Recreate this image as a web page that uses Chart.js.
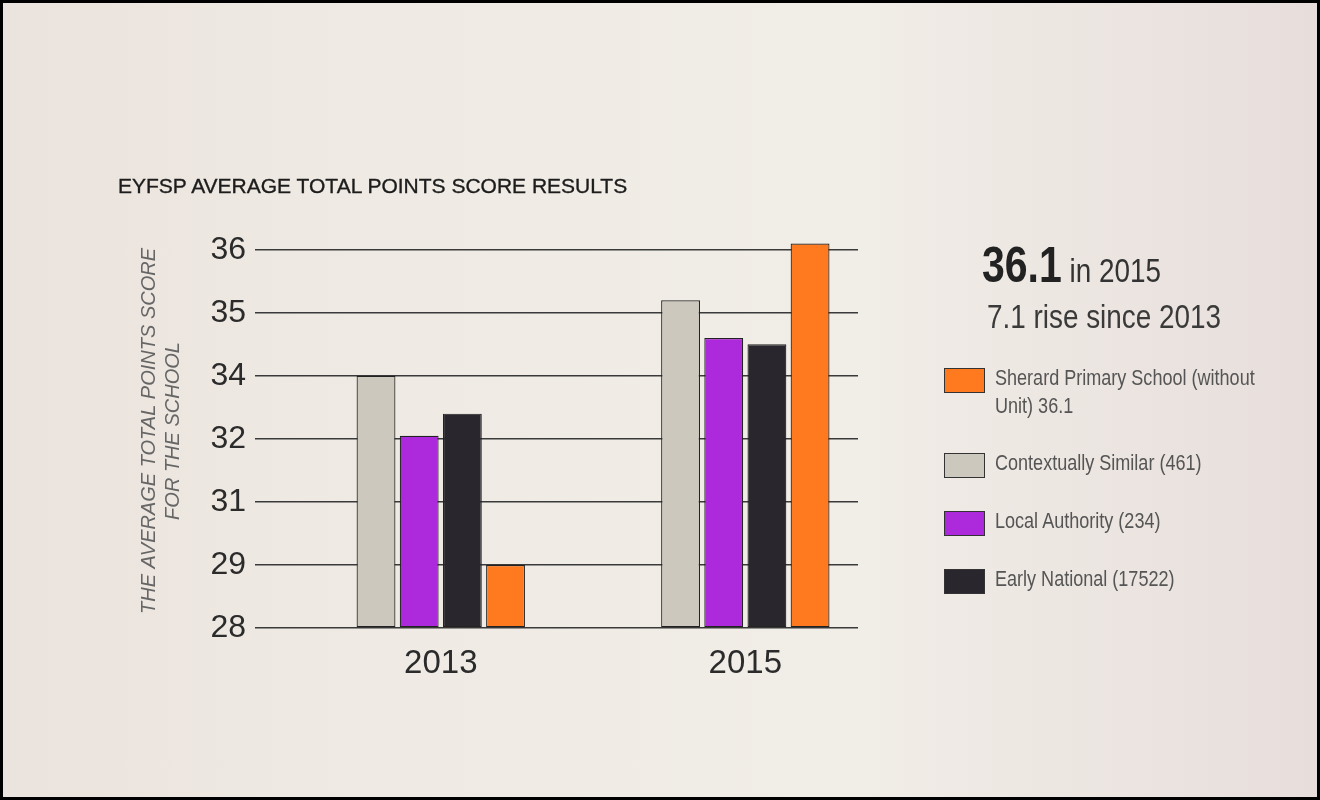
<!DOCTYPE html>
<html>
<head>
<meta charset="utf-8">
<script src="https://cdn.jsdelivr.net/npm/chart.js@4/dist/chart.umd.min.js"></script>
<style>
    html, body { margin: 0; padding: 0; }
    body { width: 1320px; height: 800px; overflow: hidden; }
    #page {
        position: relative; width: 1320px; height: 800px;
        background: linear-gradient(90deg, #ebe3dd 0%, #efebe4 30%, #f1ede7 65%, #e7dedb 100%);
        font-family: 'Liberation Sans', Arial, sans-serif; color: #333;
    }
    #frame { position: absolute; inset: 0; border: 3px solid #000; pointer-events: none; z-index: 5; }
    #chart { position: absolute; left: 0; top: 0; }
    #title {
        position: absolute; left: 118px; top: 175px; line-height: 1;
        font-size: 21px; color: #1c1c1c; -webkit-text-stroke: 0.35px #1c1c1c;
    }
    .narrow { transform: scaleX(0.82); transform-origin: 0 0; white-space: nowrap; }
    #stat { position: absolute; left: 982px; top: 240px; line-height: 1; color: #222; }
    #stat b { font-size: 50px; font-weight: bold; }
    #stat span { font-size: 34px; color: #333; }
    #rise { position: absolute; left: 987px; top: 299px; font-size: 34px; line-height: 1; color: #3a3a3a; }
    #legend { position: absolute; left: 944px; top: 364px; }
    .item { display: flex; align-items: flex-start; margin-bottom: 29px; }
    .box { width: 39px; height: 23px; margin-top: 4px; border: 1px solid #333; flex: none; }
    .txt { margin-left: 10px; width: 360px; font-size: 22px; line-height: 28px; color: #555;
           transform: scaleX(0.82); transform-origin: 0 0; }
</style>
</head>
<body>
<div id="page">
    <canvas id="chart" width="1320" height="800"></canvas>
    <div id="title">EYFSP AVERAGE TOTAL POINTS SCORE RESULTS</div>
    <div id="stat" class="narrow"><b>36.1</b><span> in 2015</span></div>
    <div id="rise" class="narrow">7.1 rise since 2013</div>
    <div id="legend"></div>
    <div id="frame"></div>
</div>
<script>
'use strict';

/* --------------------------------------------------------------------------
   DATA
   -------------------------------------------------------------------------- */
const years = [2013, 2015];
const yTickLabels = [28, 29, 31, 32, 34, 35, 36];   // evenly spaced on the original axis

const contextual = [34.0, 35.2];
const localAuth  = [32.1, 34.6];
const national   = [32.8, 34.5];
const sherard    = [29.0, 36.1];

const COLORS = {
    gray:   '#ccc8be',
    purple: '#ac29dc',
    black:  '#29272d',
    orange: '#ff7a1f',
};

// legend order on the right panel (dataset indexes)
const legendOrder = [3, 0, 1, 2];

/* --------------------------------------------------------------------------
   The source axis spaces its uneven labels evenly, so map a score onto
   the label index (piecewise linear between neighbouring labels).
   -------------------------------------------------------------------------- */
function toAxis(v) {
    const t = yTickLabels;
    for (let i = 0; i < t.length - 1; i++) {
        if (v <= t[i + 1]) return i + (v - t[i]) / (t[i + 1] - t[i]);
    }
    return t.length - 1 + (v - t[t.length - 1]);
}

const points = arr => arr.map((v, i) => ({ x: years[i], y: toAxis(v) }));

const barStyle = { borderColor: '#222', borderWidth: 1.2, borderSkipped: false,
                   barPercentage: 0.9, categoryPercentage: 0.567 };

const datasets = [
    { label: 'Contextually Similar (461)', data: points(contextual), backgroundColor: COLORS.gray, ...barStyle },
    { label: 'Local Authority (234)', data: points(localAuth), backgroundColor: COLORS.purple, ...barStyle },
    { label: 'Early National (17522)', data: points(national), backgroundColor: COLORS.black, ...barStyle },
    { label: 'Sherard Primary School (without Unit) 36.1', data: points(sherard), backgroundColor: COLORS.orange, ...barStyle },
];

const FONT = "'Liberation Sans', Arial, sans-serif";

const chart = new Chart(document.getElementById('chart').getContext('2d'), {
    type: 'bar',
    data: { datasets },
    options: {
        responsive: false,
        animation: false,
        layout: { padding: { left: 137, top: 234, right: 462, bottom: 112 } },
        plugins: { legend: { display: false }, tooltip: { enabled: false } },
        scales: {
            x: {
                type: 'linear',
                offset: false,
                min: 2011.78, max: 2015.74,
                afterBuildTicks: s => { s.ticks = years.map(v => ({ value: v })); },
                afterFit: s => { s.height = 60; },
                grid: { display: false, offset: false },
                border: { display: false },
                ticks: { color: '#2b2b2b', font: { family: FONT, size: 33 }, padding: 8,
                         callback: v => String(v) },
            },
            y: {
                min: 0, max: 6.25,
                afterBuildTicks: s => { s.ticks = yTickLabels.map((_, i) => ({ value: i })); },
                afterFit: s => { s.width = 118; },
                grid: { color: '#3a3a3a', lineWidth: 1.5, drawTicks: false },
                border: { display: false },
                ticks: { color: '#2b2b2b', font: { family: FONT, size: 32 }, padding: 9,
                         callback: (v, i) => yTickLabels[i] },
                title: {
                    display: true,
                    text: ['THE AVERAGE TOTAL POINTS SCORE', 'FOR THE SCHOOL'],
                    color: '#666',
                    font: { family: FONT, size: 20, style: 'italic' },
                    padding: { top: 0, bottom: 0 },
                },
            },
        },
    },
});

/* --------------------------------------------------------------------------
   HTML legend (wrapped label text)
   -------------------------------------------------------------------------- */
const legendEl = document.getElementById('legend');
legendOrder.forEach(idx => {
    const ds = chart.data.datasets[idx];
    const item = document.createElement('div');
    item.className = 'item';
    item.innerHTML = `<div class="box" style="background:${ds.backgroundColor}"></div><div class="txt">${ds.label}</div>`;
    legendEl.appendChild(item);
});
</script>
</body>
</html>
